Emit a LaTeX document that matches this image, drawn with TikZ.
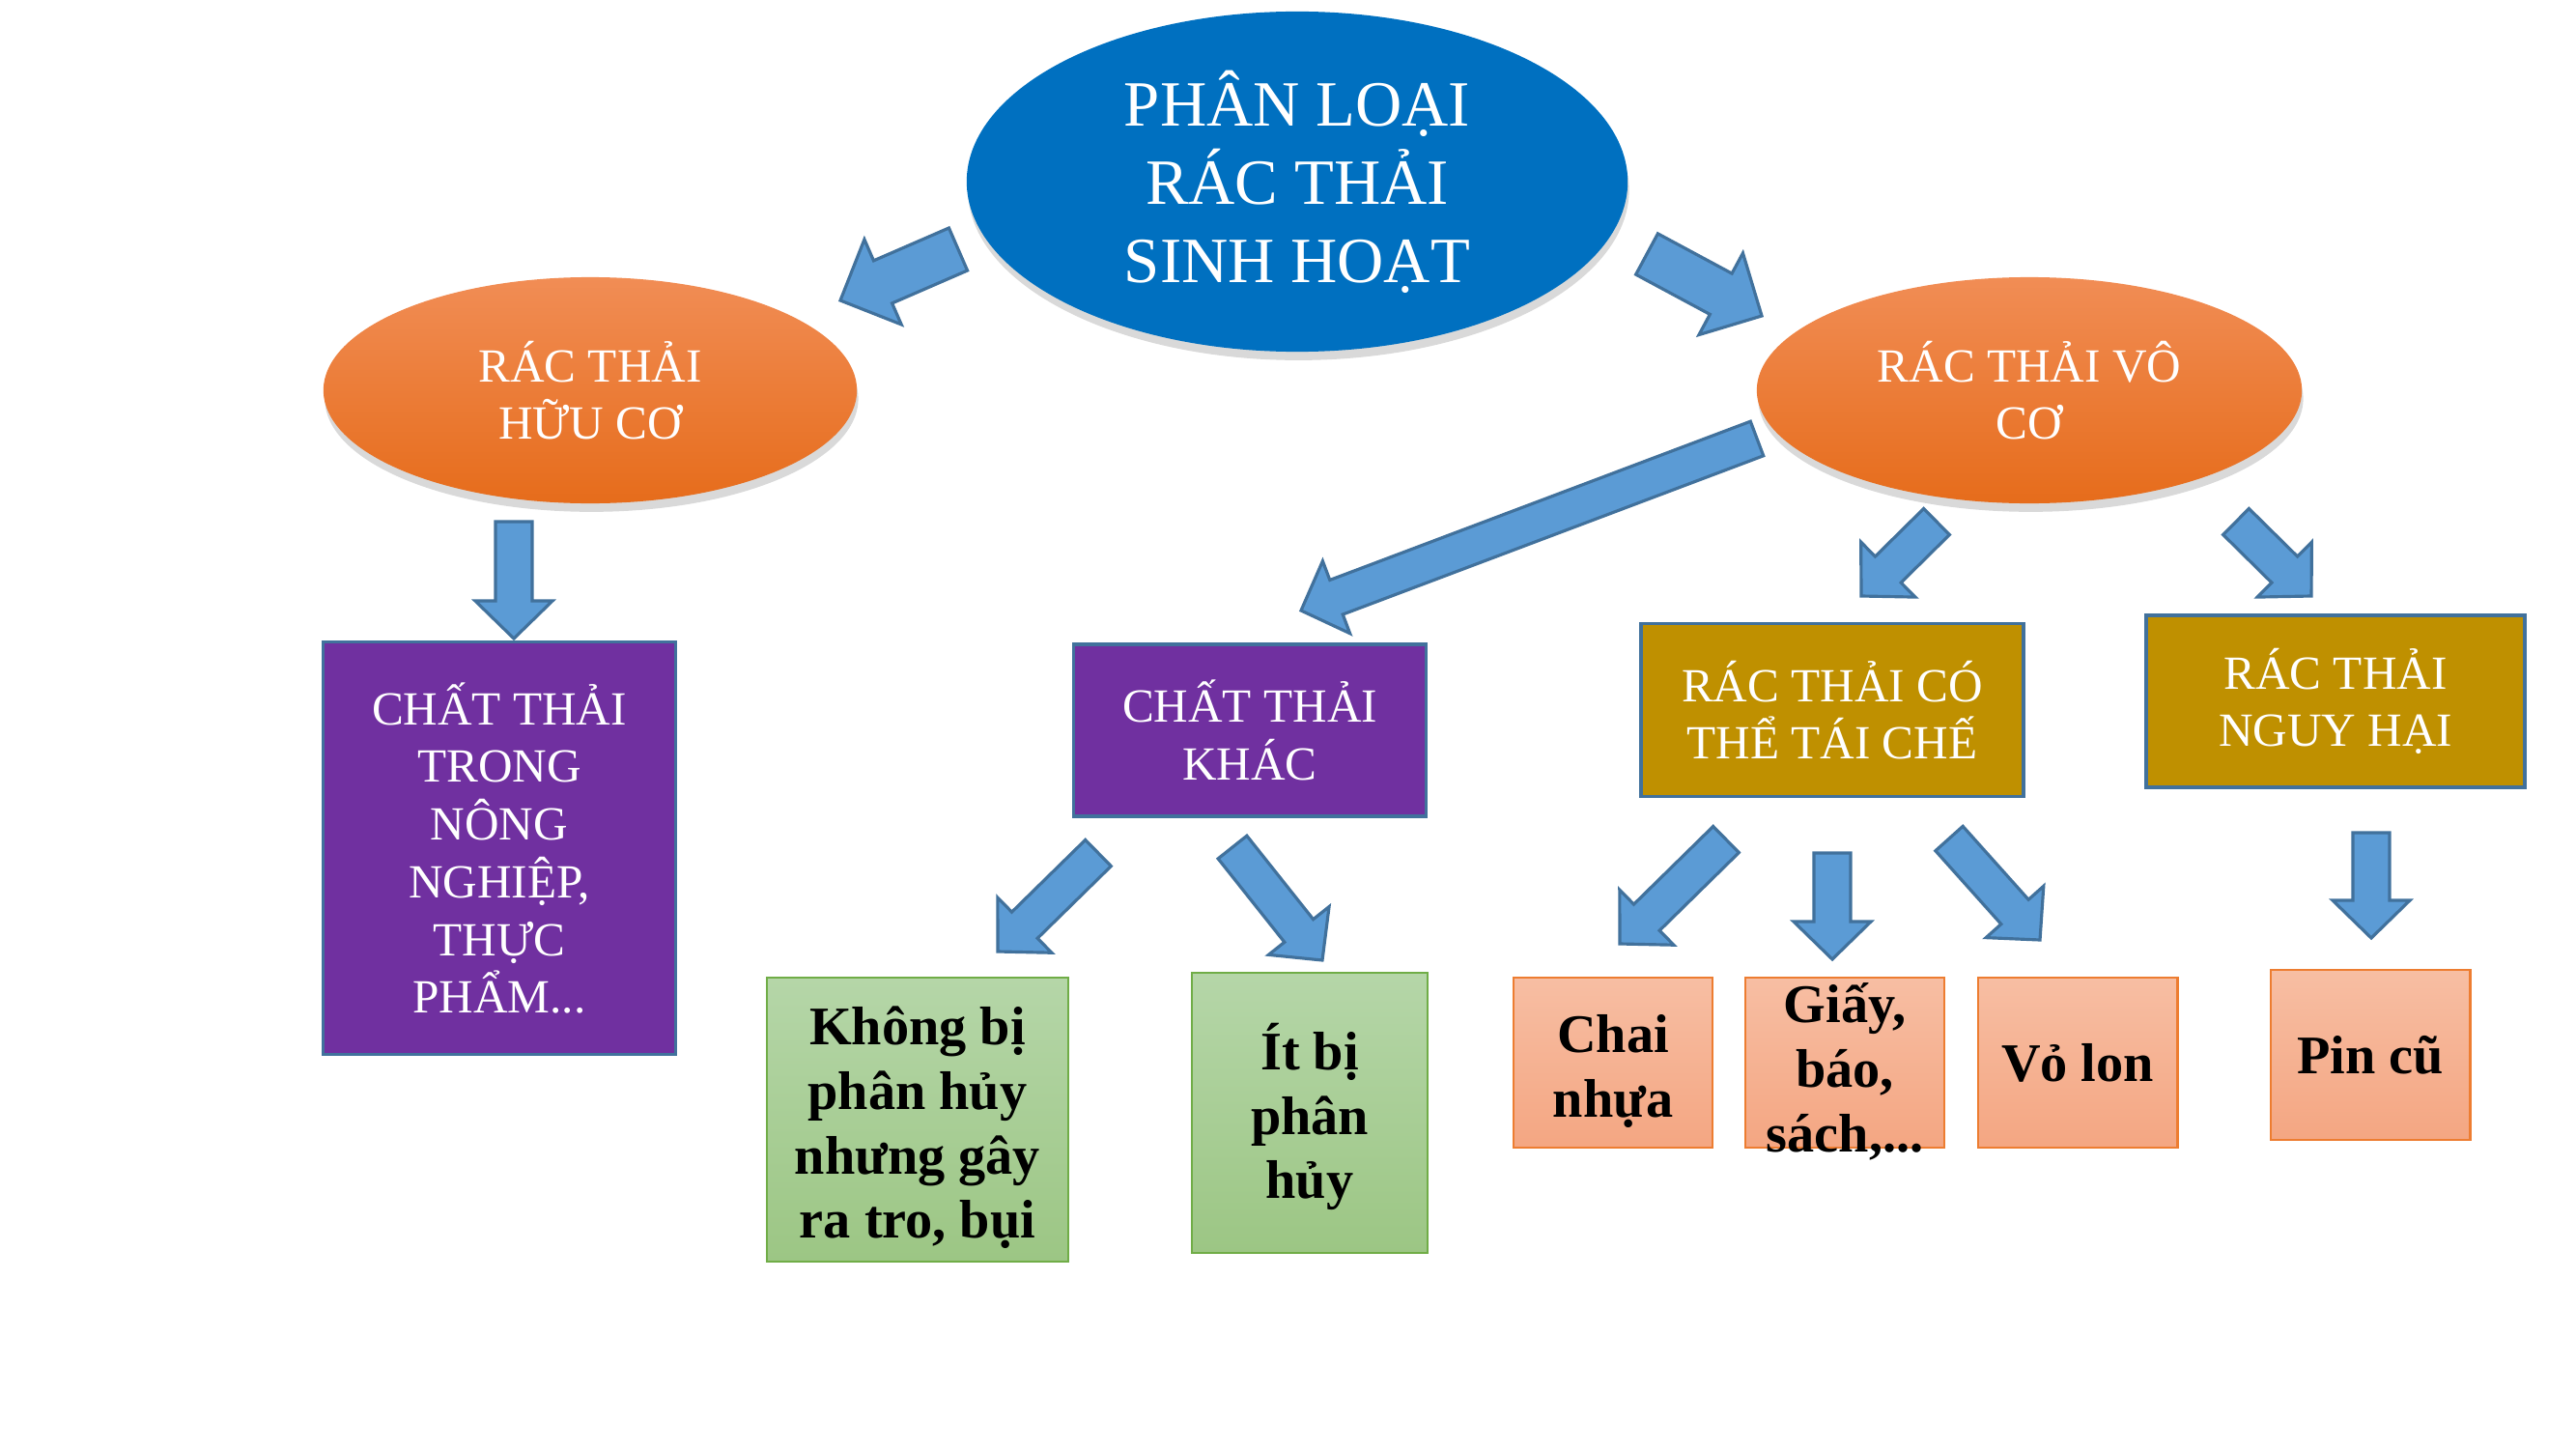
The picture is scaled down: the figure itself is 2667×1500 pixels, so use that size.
\documentclass[tikz,border=0pt]{standalone}
\usepackage{fontspec}
\setmainfont{Liberation Serif}
\usetikzlibrary{shapes.geometric,shadows,calc}

\definecolor{rootblue}{HTML}{0070C0}
\definecolor{orangetop}{HTML}{F18D55}
\definecolor{orangebot}{HTML}{E66C1B}
\definecolor{boxpurple}{HTML}{7030A0}
\definecolor{boxgold}{HTML}{BF9000}
\definecolor{boxline}{HTML}{41719C}
\definecolor{greentop}{HTML}{B5D6A8}
\definecolor{greenbot}{HTML}{9CC684}
\definecolor{greenline}{HTML}{70AD47}
\definecolor{salmontop}{HTML}{F7BEA3}
\definecolor{salmonbot}{HTML}{F4A682}
\definecolor{salmonline}{HTML}{ED7D31}
\definecolor{arrowblue}{HTML}{5B9BD5}

% block arrow: tail, tip, half shaft, half head, head length
\newcommand{\blockarrow}[5]{%
  \coordinate (hb) at ($(#2)!#5!(#1)$);
  \draw[bluearrow] ($(#1)!#3!90:(#2)$) -- ($(hb)!#3!-90:(#1)$) -- ($(hb)!#4!-90:(#1)$)
    -- (#2) -- ($(hb)!#4!90:(#1)$) -- ($(hb)!#3!90:(#1)$) -- ($(#1)!#3!-90:(#2)$) -- cycle;}
\newcommand{\bigarrow}[2]{\blockarrow{#1}{#2}{0.24cm}{0.48cm}{0.48cm}}
\newcommand{\smallarrow}[2]{\blockarrow{#1}{#2}{0.19cm}{0.40cm}{0.39cm}}
\newcommand{\topstrut}{\rule{0pt}{1em}}

\begin{document}
\begin{tikzpicture}[line join=miter,x=0.01cm,y=-0.01cm,
    bluearrow/.style={fill=arrowblue,draw=boxline,line width=0.9pt},
    shade/.style={drop shadow={shadow xshift=0.4pt,shadow yshift=-2.5pt,opacity=0.3}},
    whitetext/.style={text=white,align=center,font=\fontsize{14}{17}\selectfont},
    blacktext/.style={text=black,align=center,font=\fontsize{16}{19}\selectfont\bfseries},
    rootnode/.style={ellipse,shade,fill=rootblue,inner sep=0pt,text=white,align=center,
      font=\fontsize{19}{23}\selectfont,minimum width=6.84cm,minimum height=3.52cm},
    orangenode/.style={ellipse,shade,top color=orangetop,bottom color=orangebot,inner sep=0pt,
      whitetext,minimum height=2.34cm},
    purplebox/.style={rectangle,fill=boxpurple,draw=boxline,line width=1pt,whitetext,inner sep=2pt},
    goldbox/.style={rectangle,fill=boxgold,draw=boxline,line width=1.1pt,whitetext,inner sep=2pt},
    greenbox/.style={rectangle,top color=greentop,bottom color=greenbot,draw=greenline,
      line width=0.6pt,blacktext,inner sep=1pt},
    salmonbox/.style={rectangle,top color=salmontop,bottom color=salmonbot,draw=salmonline,
      line width=0.8pt,blacktext,inner sep=1pt,minimum width=2.06cm,minimum height=1.76cm}]
  \useasboundingbox (0,0) rectangle (2667,1500);

  % ellipses
  \node[rootnode] (root) at (1343,188) {PHÂN LOẠI\\RÁC THẢI\\SINH HOẠT};
  \node[orangenode,minimum width=5.52cm] (huuco) at (611,404) {RÁC THẢI\\HỮU CƠ};
  \node[orangenode,minimum width=5.64cm] (voco) at (2101,404) {RÁC THẢI VÔ\\CƠ};

  % second row
  \node[purplebox,minimum width=3.65cm,minimum height=4.27cm] (nongnghiep) at (517,878)
    {CHẤT THẢI\\TRONG\\NÔNG\\NGHIỆP,\\THỰC\\PHẨM...};
  \node[purplebox,minimum width=3.65cm,minimum height=1.78cm] (khac) at (1294,756) {CHẤT THẢI\\KHÁC};
  \node[goldbox,minimum width=3.96cm,minimum height=1.79cm] (taiche) at (1897,735) {RÁC THẢI CÓ\\THỂ TÁI CHẾ};
  \node[goldbox,minimum width=3.92cm,minimum height=1.78cm] (nguyhai) at (2418,726) {RÁC THẢI\\NGUY HẠI};

  % third row
  \node[greenbox,minimum width=3.12cm,minimum height=2.93cm] (khongbi) at (950,1159)
    {\topstrut Không bị\\phân hủy\\nhưng gây\\ra tro, bụi};
  \node[greenbox,minimum width=2.44cm,minimum height=2.89cm] (itbi) at (1356,1152) {\topstrut Ít bị\\phân\\hủy};
  \node[salmonbox] (chai) at (1670,1100) {\topstrut Chai\\nhựa};
  \node[salmonbox] (giay) at (1910,1100) {};
  \node[blacktext] (giaytext) at (1910,1102) {\topstrut Giấy,\\báo,\\sách,...};
  \node[salmonbox] (volon) at (2151,1100) {Vỏ lon};
  \node[salmonbox] (pin) at (2454,1092) {Pin cũ};

  % arrow ends
  \coordinate (a1) at (992,258);   \coordinate (b1) at (870,311);
  \coordinate (a2) at (1705,263);  \coordinate (b2) at (1824,327);
  \coordinate (a3) at (532,540);   \coordinate (b3) at (532,661);
  \coordinate (a4) at (1819,454);  \coordinate (b4) at (1347,632);
  \coordinate (a5) at (2005,540);  \coordinate (b5) at (1927,617);
  \coordinate (a6) at (2315,540);  \coordinate (b6) at (2393,617);
  \coordinate (a7) at (1137,883);  \coordinate (b7) at (1033,985);
  \coordinate (a8) at (1276,877);  \coordinate (b8) at (1369,994);
  \coordinate (a9) at (1787,869);  \coordinate (b9) at (1677,977);
  \coordinate (a10) at (1897,883); \coordinate (b10) at (1897,993);
  \coordinate (a11) at (2018,868); \coordinate (b11) at (2112,973);
  \coordinate (a12) at (2455,862); \coordinate (b12) at (2455,971);

  \bigarrow{a1}{b1}
  \bigarrow{a2}{b2}
  \foreach \i in {3,...,12}{\smallarrow{a\i}{b\i}}
\end{tikzpicture}
\end{document}
